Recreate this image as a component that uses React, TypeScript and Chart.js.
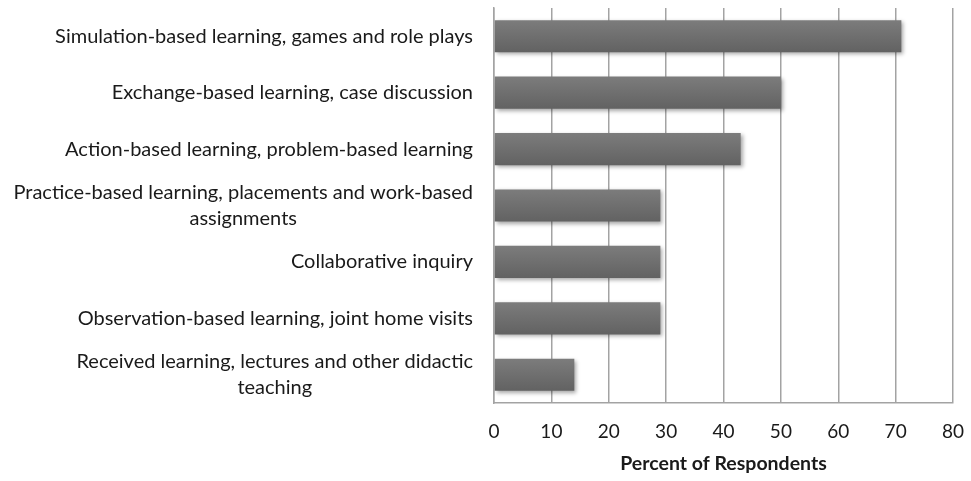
import React, { useEffect, useRef } from "react";
import { Chart, registerables } from "chart.js";

Chart.register(...registerables);

const categoryLines: string[][] = [
  ["Simulation-based learning, games and role plays"],
  ["Exchange-based learning, case discussion"],
  ["Action-based learning, problem-based learning"],
  ["Practice-based learning, placements and work-based", "assignments"],
  ["Collaborative inquiry"],
  ["Observation-based learning, joint home visits"],
  ["Received learning, lectures and other didactic", "teaching"],
];
const values: number[] = [71, 50, 43, 29, 29, 29, 14];
const xMin = 0;
const xMax = 80;
const xStep = 10;
const xTitle = "Percent of Respondents";

const FONT = "Lato, 'Open Sans', sans-serif";

export default function App() {
  const ref = useRef<HTMLCanvasElement | null>(null);
  useEffect(() => {
    if (!ref.current) return;
    const shadowPlugin = {
      id: "barShadow",
      beforeDatasetsDraw(chart: any) {
        const ctx = chart.ctx;
        ctx.save();
        ctx.shadowColor = "rgba(0,0,0,0.35)";
        ctx.shadowBlur = 4;
        ctx.shadowOffsetX = 2;
        ctx.shadowOffsetY = 2;
      },
      afterDatasetsDraw(chart: any) {
        chart.ctx.restore();
      },
    };
    const labelPlugin = {
      id: "catLabels",
      afterDraw(chart: any) {
        const ctx = chart.ctx;
        const ys = chart.scales.y;
        ctx.save();
        ctx.font = `20px ${FONT}`;
        ctx.fillStyle = "#1a1a1a";
        ctx.textAlign = "center";
        ctx.textBaseline = "middle";
        const right = chart.chartArea.left - 21;
        const lh = 26;
        categoryLines.forEach((lines, i) => {
          const cy = ys.getPixelForTick(i);
          const maxW = Math.max(...lines.map((l) => ctx.measureText(l).width));
          const cx = right - maxW / 2;
          const y0 = cy - ((lines.length - 1) * lh) / 2;
          lines.forEach((l, j) => ctx.fillText(l, cx, y0 + j * lh));
        });
        ctx.restore();
      },
    };
    const chart = new Chart(ref.current, {
      type: "bar",
      data: {
        labels: categoryLines.map((l) => l.join(" ")),
        datasets: [
          {
            data: values,
            backgroundColor: (c: any) => {
              const chart = c.chart;
              const ys = chart.scales.y;
              const area = chart.chartArea;
              if (!ys || !area || c.dataIndex === undefined) return "#6e6e6e";
              const cy = ys.getPixelForValue(c.dataIndex);
              const half = ((area.bottom - area.top) / categoryLines.length) * 0.57 / 2;
              const g = chart.ctx.createLinearGradient(0, cy - half, 0, cy + half);
              g.addColorStop(0, "#7c7c7c");
              g.addColorStop(1, "#626262");
              return g;
            },
            borderWidth: 0,
            barPercentage: 0.57,
            categoryPercentage: 1,
          },
        ],
      },
      options: {
        indexAxis: "y",
        animation: false,
        responsive: true,
        maintainAspectRatio: false,
        layout: { padding: { top: 8, right: 18, left: 0, bottom: 0 } },
        plugins: { legend: { display: false }, tooltip: { enabled: false } },
        scales: {
          x: {
            min: xMin,
            max: xMax,
            ticks: {
              stepSize: xStep,
              color: "#1a1a1a",
              font: { family: FONT, size: 19 },
              padding: 17,
            },
            grid: { color: "#a3a3a3", lineWidth: 1.5, drawTicks: false },
            border: { display: true, color: "#a3a3a3", width: 1.5 },
            title: {
              display: true,
              text: xTitle,
              color: "#1a1a1a",
              font: { family: FONT, size: 19.5, weight: "bold" },
              padding: { top: 4, bottom: 6 },
            },
            afterFit(scale: any) {
              scale.height = 78;
              scale.paddingLeft = 0;
              scale.paddingRight = 0;
            },
          },
          y: {
            ticks: { display: false },
            grid: { display: false },
            border: { display: true, color: "#a3a3a3", width: 1.5 },
            afterFit(scale: any) {
              scale.width = 494;
            },
          },
        },
      },
      plugins: [shadowPlugin, labelPlugin],
    } as any);
    return () => chart.destroy();
  }, []);
  return (
    <div style={{ position: "fixed", left: 0, top: 0, width: 971, height: 481, background: "#fff" }}>
      <canvas ref={ref} />
    </div>
  );
}
